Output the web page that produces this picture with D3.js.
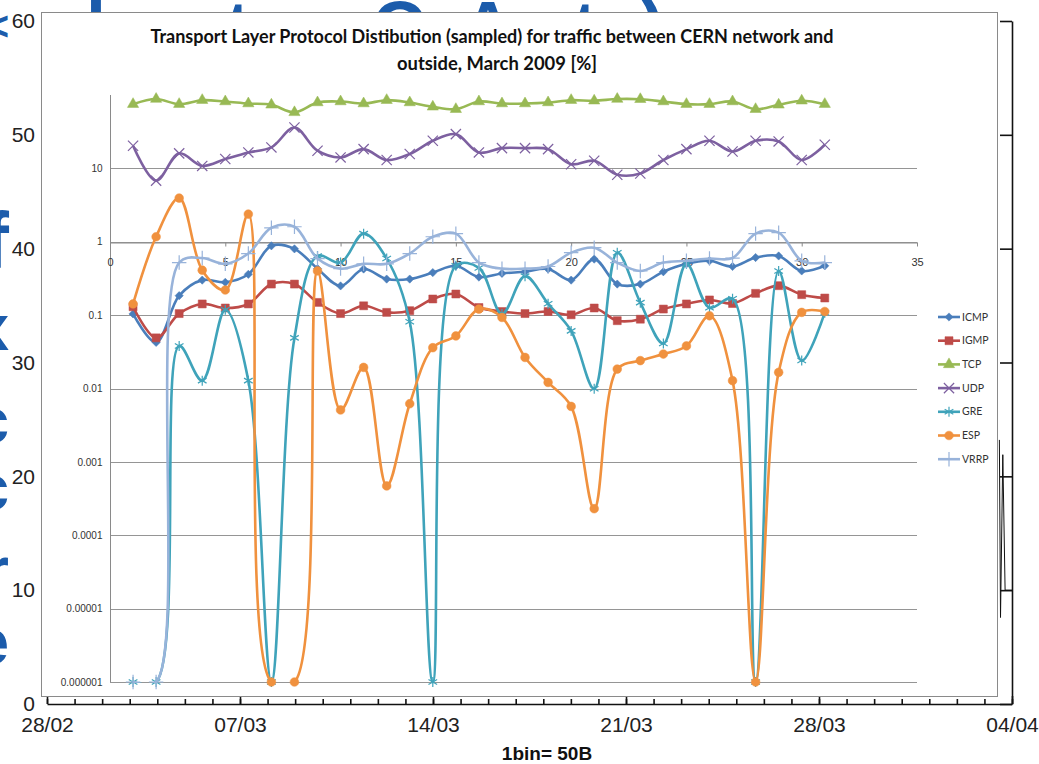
<!DOCTYPE html>
<html>
<head>
<meta charset="utf-8">
<script src="https://cdn.jsdelivr.net/npm/d3@7"></script>
<style>
  body { margin: 0; background: #fff; }
  svg { display: block; }
  text { font-family: "Liberation Sans", Arial, sans-serif; }
</style>
</head>
<body>
<svg id="chart" width="1039" height="764"></svg>
<script>
//------------------------------------data--------------------------------------

// sample index (1..31) on the x axis of the Excel chart
const days = d3.range(1, 32);

const protocols = ["ICMP", "IGMP", "TCP", "UDP", "GRE", "ESP", "VRRP"];

// share of traffic in %, log scale; 0.000001 is the floor used for "nothing"
const icmp = [0.104, 0.0425, 0.184, 0.30, 0.28, 0.36, 0.88, 0.80, 0.43, 0.25, 0.425, 0.31, 0.31, 0.38, 0.47, 0.33,
  0.37, 0.39, 0.425, 0.30, 0.58, 0.265, 0.265, 0.39, 0.50, 0.55, 0.46, 0.61, 0.64, 0.40, 0.47];
const igmp = [0.13, 0.049, 0.105, 0.142, 0.125, 0.142, 0.265, 0.265, 0.149, 0.105, 0.134, 0.109, 0.115, 0.166, 0.194, 0.127,
  0.112, 0.105, 0.112, 0.101, 0.125, 0.084, 0.088, 0.121, 0.142, 0.161, 0.144, 0.198, 0.252, 0.19, 0.171];
const tcp = [75, 88, 75, 85, 81.5, 76.5, 73.5, 58, 79, 81.5, 76.5, 85, 79, 69, 64, 81.5,
  76.5, 76.5, 79, 85, 83.5, 88, 87.5, 81.5, 75, 75, 81.5, 64, 73.5, 83.5, 75];
const udp = [20.3, 6.8, 16, 10.8, 13.4, 16.5, 19.3, 36, 17.4, 14.1, 18.3, 13, 15.7, 23.8, 29.3, 16.5,
  18.9, 18.9, 18.3, 11.4, 12.7, 8.2, 8.5, 13, 18.3, 23.8, 17, 23.8, 23.3, 13, 21];
const gre = [1e-6, 1e-6, 0.038, 0.0128, 0.118, 0.0128, 1e-6, 0.049, 0.64, 0.52, 1.29, 0.59, 0.081, 1e-6, 0.47, 0.44,
  0.104, 0.34, 0.143, 0.061, 0.0099, 0.71, 0.148, 0.041, 0.50, 0.126, 0.167, 1e-6, 0.40, 0.024, 0.108];
const esp = [0.142, 1.17, 3.94, 0.41, 0.22, 2.38, 1e-6, 1e-6, 0.40, 0.0051, 0.0194, 0.00047, 0.0062, 0.036, 0.052, 0.121,
  0.093, 0.0265, 0.0121, 0.0057, 0.00023, 0.0184, 0.024, 0.0295, 0.038, 0.098, 0.0128, 1e-6, 0.0166, 0.109, 0.112];
const vrrp = [1e-6, 1e-6, 0.52, 0.6, 0.5, 0.69, 1.55, 1.6, 0.59, 0.43, 0.5, 0.5, 0.69, 1.17, 1.29, 0.52,
  0.43, 0.43, 0.46, 0.71, 0.83, 0.52, 0.40, 0.52, 0.55, 0.59, 0.6, 1.29, 1.33, 0.55, 0.52];

const innerXTicks = [0, 5, 10, 15, 20, 25, 30, 35];
const innerYTicks = [10, 1, 0.1, 0.01, 0.001, 0.0001, 0.00001, 0.000001];

// the slide graph lying underneath the pasted Excel chart
const outerYTicks = [0, 10, 20, 30, 40, 50, 60];
const outerStart = new Date(2009, 1, 28);
const outerEnd = new Date(2009, 3, 4);
// only the tail of its series sticks out on the right (hours before 04/04, value)
const outerTailHours = [11, 9.5, 7.5, 5.5, 0];
const outerTailValues = [23.2, 7.6, 21.9, 10, 10];

//------------------------------------setup-------------------------------------

const svg = d3.select("#chart");

const colors = {ICMP: "#4A7EBB", IGMP: "#BE4B48", TCP: "#98B954", UDP: "#7D60A0",
  GRE: "#3FA3BA", ESP: "#F0913E", VRRP: "#98B3DA"};
const seriesValues = {ICMP: icmp, IGMP: igmp, TCP: tcp, UDP: udp, GRE: gre, ESP: esp, VRRP: vrrp};

//background slide lettering, mostly hidden by the chart
const slideBlue = "#1C5CAB";
const topGlyphs = [["l", 86], ["t", 226], ["O", 372], ["A", 462], ["t", 573], [")", 641]];
svg.append("g").selectAll("text").data(topGlyphs).join("text")
    .attr("x", d => d[1])
    .attr("y", 52)
    .attr("font-size", 72)
    .attr("font-weight", "bold")
    .attr("fill", slideBlue)
    .text(d => d[0]);

const leftGlyphs = [["<", 40, 40], ["f", 268, 80], ["x", 350, 64], ["c", 443, 64], ["c", 510, 64], ["r", 592, 64], ["e", 664, 64]];
svg.append("g").selectAll("text").data(leftGlyphs).join("text")
    .attr("x", 9)
    .attr("y", d => d[1])
    .attr("font-size", d => d[2])
    .attr("font-weight", "bold")
    .attr("text-anchor", "end")
    .attr("fill", slideBlue)
    .text(d => d[0]);

//---------------------------------outer graph----------------------------------

const ox = d3.scaleTime().domain([outerStart, outerEnd]).range([47, 1012]);
const oy = d3.scaleLinear().domain([0, 60]).range([704, 21]);

//left labels only, the axis line is hidden under the pasted chart
const oLeft = svg.append("g")
    .attr("transform", "translate(41,0)")
    .call(d3.axisLeft(oy).tickValues(outerYTicks).tickSize(0).tickPadding(6));
oLeft.select(".domain").remove();
oLeft.selectAll("text").attr("font-size", 21).attr("fill", "#222").attr("font-family", "Liberation Sans, Arial, sans-serif");

//right axis, ticks pointing inwards
const oRight = svg.append("g")
    .attr("transform", "translate(1012,0)")
    .call(d3.axisLeft(oy).tickValues(outerYTicks).tickSize(12).tickSizeOuter(0).tickFormat(""));
oRight.selectAll("line, path").attr("stroke", "#111").attr("stroke-width", 1.6);

//tail of the outer series
const tail = outerTailHours.map((h, i) => ({t: d3.timeHour.offset(outerEnd, -h), v: outerTailValues[i]}));
svg.append("path")
    .datum(tail)
    .attr("fill", "none")
    .attr("stroke", "#111")
    .attr("stroke-width", 1)
    .attr("d", d3.line().x(d => ox(d.t)).y(d => oy(d.v)));

//bottom date axis: minor day ticks + weekly labels, ticks stand up from the line
const dayTicks = d3.timeDay.range(outerStart, d3.timeDay.offset(outerEnd, 1));
const weekTicks = d3.range(0, 36, 7).map(d => d3.timeDay.offset(outerStart, d));

const oMinor = svg.append("g")
    .attr("transform", "translate(0,704)")
    .call(d3.axisBottom(ox).tickValues(dayTicks).tickSize(-5).tickSizeOuter(0).tickFormat(""));
oMinor.selectAll("line, path").attr("stroke", "#111").attr("stroke-width", 1.6);

const oMajor = svg.append("g")
    .attr("transform", "translate(0,704)")
    .call(d3.axisBottom(ox).tickValues(weekTicks).tickSize(-8).tickSizeOuter(0)
      .tickPadding(13).tickFormat(d3.timeFormat("%d/%m")));
oMajor.select(".domain").remove();
oMajor.selectAll("line").attr("stroke", "#111").attr("stroke-width", 1.6);
oMajor.selectAll("text").attr("font-size", 21).attr("fill", "#222").attr("font-family", "Liberation Sans, Arial, sans-serif");

svg.append("text")
    .attr("x", 547)
    .attr("y", 760)
    .attr("text-anchor", "middle")
    .attr("font-size", 19)
    .attr("font-weight", "bold")
    .attr("fill", "#111")
    .text("1bin= 50B");

//------------------------------pasted Excel chart------------------------------

svg.append("rect")
    .attr("x", 41.5).attr("y", 12.5)
    .attr("width", 956).attr("height", 684)
    .attr("fill", "#fff")
    .attr("stroke", "#8a8a8a");

const title = svg.append("text")
    .attr("text-anchor", "middle")
    .attr("font-weight", "bold")
    .attr("font-size", 18)
    .attr("fill", "#111");
title.append("tspan").attr("x", 492).attr("y", 43)
    .attr("textLength", 683).attr("lengthAdjust", "spacingAndGlyphs")
    .style("font-family", "Lato, sans-serif")
    .text("Transport Layer Protocol Distibution (sampled) for traffic between CERN network and");
title.append("tspan").attr("x", 497).attr("y", 70)
    .attr("textLength", 200).attr("lengthAdjust", "spacingAndGlyphs")
    .style("font-family", "Lato, sans-serif")
    .text("outside, March 2009  [%]");

const ix = d3.scaleLinear().domain([0, 35]).range([110, 917]);
const iy = d3.scaleLog().domain([1e-6, 100]).range([682, 95]);

//horizontal gridlines
svg.append("g").selectAll("line").data(innerYTicks).join("line")
    .attr("x1", ix(0)).attr("x2", ix(35))
    .attr("y1", d => Math.round(iy(d)) + 0.5).attr("y2", d => Math.round(iy(d)) + 0.5)
    .attr("stroke", "#959595");

const yAxis = svg.append("g")
    .attr("transform", "translate(110.5,0)")
    .call(d3.axisLeft(iy).tickValues(innerYTicks).tickSize(0).tickPadding(8)
      .tickFormat(d => d >= 1 ? String(d) : d.toFixed(Math.round(-Math.log10(d)))));
yAxis.select(".domain").attr("stroke", "#8a8a8a").attr("d", `M0,${iy(100)}V${iy(1e-6)}`);
yAxis.selectAll("text").attr("font-size", 10).attr("fill", "#333").attr("font-family", "Lato, sans-serif");

//x axis crosses the log axis at 1
const xAxis = svg.append("g")
    .attr("transform", `translate(0,${Math.round(iy(1)) + 0.5})`)
    .call(d3.axisBottom(ix).tickValues(innerXTicks).tickSize(4).tickSizeOuter(0).tickPadding(12));
xAxis.selectAll("line, path").attr("stroke", "#8a8a8a");
xAxis.selectAll("text").attr("font-size", 11).attr("fill", "#333").attr("font-family", "Lato, sans-serif");

//clip the smoothed lines to the plot area, markers stay whole
svg.append("clipPath").attr("id", "plotClip")
  .append("rect")
    .attr("x", ix(0)).attr("y", iy(100))
    .attr("width", ix(35) - ix(0)).attr("height", iy(1e-6) - iy(100) + 1);

//Excel smoothing keeps the overshoot small next to long jumps -> centripetal spline
const line = d3.line()
    .x((d, i) => ix(days[i]))
    .y(d => iy(d))
    .curve(d3.curveCatmullRom.alpha(0.5));

//Excel 2007 default markers
const markerDefs = {
  ICMP: {type: d3.symbolSquare, size: 34, rotate: 45, fill: true},
  IGMP: {type: d3.symbolSquare, size: 64, rotate: 0, fill: true},
  TCP: {type: d3.symbolTriangle, size: 55, rotate: 0, fill: true},
  UDP: {type: d3.symbolTimes, size: 70, rotate: 0, fill: false},
  GRE: {type: d3.symbolAsterisk, size: 70, rotate: 0, fill: false},
  ESP: {type: d3.symbolCircle, size: 60, rotate: 0, fill: true},
  VRRP: {type: d3.symbolPlus, size: 70, rotate: 0, fill: false}
};

function drawMarker(sel, name) {
  const m = markerDefs[name];
  sel.attr("d", d3.symbol().type(m.type).size(m.size))
      .attr("fill", m.fill ? colors[name] : "none")
      .attr("stroke", colors[name])
      .attr("stroke-width", m.fill ? 0.5 : 1.2);
}

const plot = svg.append("g");
protocols.forEach(name => {
  const vals = seriesValues[name];
  const g = plot.append("g").attr("class", `series-${name}`);

  g.append("path")
      .attr("clip-path", "url(#plotClip)")
      .attr("fill", "none")
      .attr("stroke", colors[name])
      .attr("stroke-width", 2.6)
      .attr("d", line(vals));

  g.selectAll("path.marker").data(vals).join("path")
      .attr("class", "marker")
      .attr("transform", (d, i) => `translate(${ix(days[i])},${iy(d)}) rotate(${markerDefs[name].rotate})`)
      .call(drawMarker, name);
});

//legend
const legend = svg.append("g").selectAll("g").data(protocols).join("g")
    .attr("transform", (d, i) => `translate(938,${317 + i * 23.7})`);
legend.append("line")
    .attr("x1", 0).attr("x2", 22)
    .attr("stroke", d => colors[d])
    .attr("stroke-width", 2.6);
legend.append("path")
    .attr("transform", d => `translate(11,0) rotate(${markerDefs[d].rotate})`)
    .each(function(d) { d3.select(this).call(drawMarker, d); });
legend.append("text")
    .attr("x", 24)
    .attr("dy", "0.35em")
    .attr("font-size", 10.5)
    .attr("fill", "#333")
    .style("font-family", "Lato, sans-serif")
    .text(d => d);
</script>
</body>
</html>
